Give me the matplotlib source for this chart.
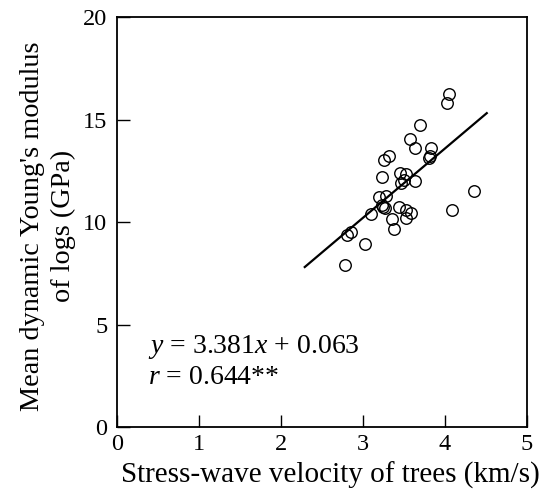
import matplotlib
matplotlib.use('Agg')
import matplotlib.pyplot as plt
import numpy as np

# stress-wave velocity of trees (km/s) vs mean dynamic Young's modulus of logs (GPa)
velocity = [4.05, 4.03, 3.70, 3.57, 3.63, 3.83, 3.82, 3.80, 3.32, 3.26,
            3.23, 3.45, 3.52, 3.47, 3.50, 3.63, 3.20, 3.28, 3.23, 3.25,
            3.27, 3.10, 3.44, 3.53, 3.59, 3.36, 3.52, 3.38, 4.36, 4.08,
            2.86, 2.81, 3.03, 2.78]
modulus = [16.24, 15.79, 14.73, 14.03, 13.63, 13.63, 13.2, 13.1, 13.2, 13.02,
           12.21, 12.37, 12.34, 11.92, 12.05, 12.02, 11.23, 11.28, 10.83, 10.75,
           10.67, 10.39, 10.75, 10.59, 10.45, 10.13, 10.18, 9.64, 11.53, 10.59,
           9.53, 9.37, 8.91, 7.90]
slope, intercept = 3.381, 0.063
fit_range = [2.29, 4.51]

plt.rcParams['font.family'] = ['Liberation Serif', 'DejaVu Serif']
plt.rcParams['mathtext.fontset'] = 'custom'
plt.rcParams['mathtext.rm'] = 'Liberation Serif'
plt.rcParams['mathtext.it'] = 'Liberation Serif:italic'

fig = plt.figure(figsize=(5.41, 4.96), dpi=100, facecolor='w')
ax = fig.add_axes([0.2163, 0.139, 0.7577, 0.8267])

ax.plot(velocity, modulus, ls='', marker='o', ms=8.3, mfc='none', mec='k', mew=1.0)
xf = np.array(fit_range)
ax.plot(xf, slope*xf + intercept, c='k', lw=1.6)

ax.text(0.38, 3.9, r'$y$ = 3.381$x$ + 0.063', fontsize=20, va='center')
ax.text(0.38, 2.4, r'$r$ = 0.644**', fontsize=20, va='center')

ax.set_xlim(0, 5)
ax.set_ylim(0, 20)
ax.set_xticks(range(6))
ax.set_yticks(range(0, 21, 5))
ax.tick_params(direction='in', length=9, width=1, labelsize=17.5, pad=5)
ax.tick_params(axis='y', pad=7)
for s in ax.spines.values():
    s.set_linewidth(1.3)

ax.set_xlabel('Stress-wave velocity of trees (km/s)', fontsize=21)
ax.xaxis.set_label_coords(0.52, -0.085)
ax.set_ylabel("Mean dynamic Young's modulus\nof logs (GPa)", fontsize=20.3, linespacing=1.3)
ax.yaxis.set_label_coords(-0.1, 0.49)

fig.savefig('out.png', dpi=100)
